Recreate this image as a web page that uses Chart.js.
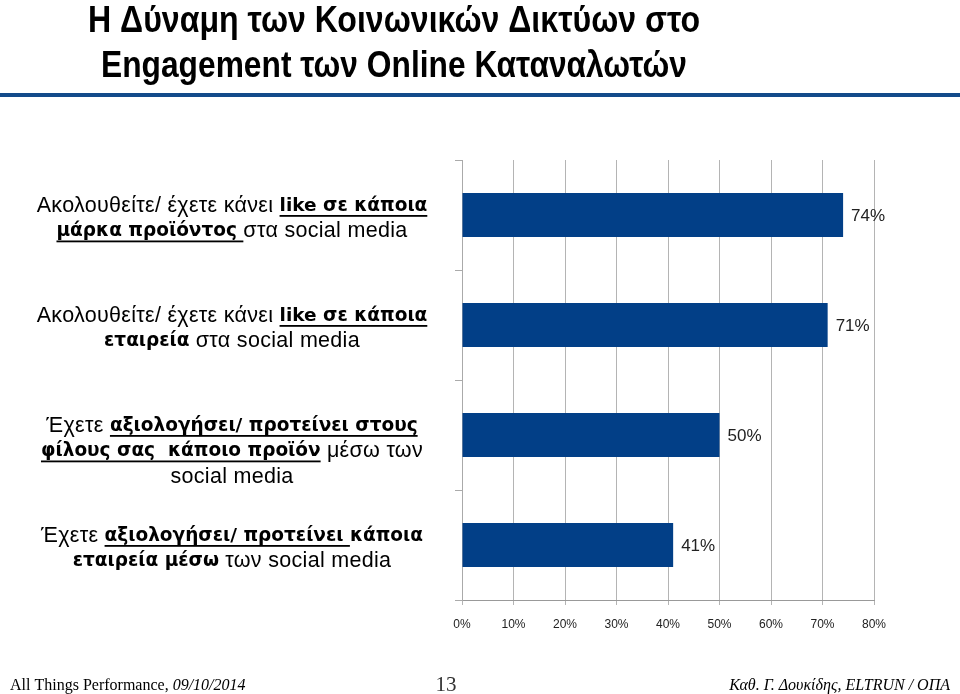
<!DOCTYPE html>
<html lang="el">
<head>
    <meta charset="UTF-8">
    <title>Η Δύναμη των Κοινωνικών Δικτύων στο Engagement των Online Καταναλωτών</title>
    <script src="https://cdn.jsdelivr.net/npm/chart.js"></script>
    <style>
        html, body { margin: 0; padding: 0; background: #fff; }
        #slide { display: block; }
    </style>
</head>
<body>
    <canvas id="slide" width="960" height="694"></canvas>
    <script>
        // Τίτλος διαφάνειας
        const titleLines = [
            'Η Δύναμη των Κοινωνικών Δικτύων στο',
            'Engagement των Online Καταναλωτών'
        ];

        // Κατηγορίες (γραμμές ετικέτας) - __ = έντονο + υπογράμμιση, ** = έντονο
        const categories = [
            ['Ακολουθείτε/ έχετε κάνει __like σε κάποια__', '__μάρκα προϊόντος __στα social media'],
            ['Ακολουθείτε/ έχετε κάνει __like σε κάποια__', '**εταιρεία** στα social media'],
            ['Έχετε __αξιολογήσει/ προτείνει στους__', '__φίλους σας  κάποιο προϊόν__ μέσω των', 'social media'],
            ['Έχετε __αξιολογήσει/ προτείνει __**κάποια**', '**εταιρεία μέσω** των social media']
        ];

        // Ποσοστά (%)
        const values = [74, 71, 50, 41];

        const axisMax = 80;
        const axisStep = 10;

        const footerLeft = 'All Things Performance, ';
        const footerDate = '09/10/2014';
        const pageNumber = '13';
        const footerRight = 'Καθ. Γ. Δουκίδης, ELTRUN / ΟΠΑ';

        const SANS = '"Liberation Sans", Arial, sans-serif';
        const SERIF = '"Liberation Serif", "Times New Roman", serif';
        const fontRegular = '21.5px ' + SANS;
        const fontBold = 'bold 18.5px "DejaVu Sans", Verdana, sans-serif';

        // χωρίζει μια γραμμή σε τμήματα με στυλ
        function parseLine(line) {
            const parts = line.split(/(__.+?__|\*\*.+?\*\*)/).filter(p => p !== '');
            return parts.map(p => {
                if (p.startsWith('__')) return { text: p.slice(2, -2), bold: true, underline: true };
                if (p.startsWith('**')) return { text: p.slice(2, -2), bold: true, underline: false };
                return { text: p, bold: false, underline: false };
            });
        }

        function setSegFont(ctx, s) {
            ctx.font = s.bold ? fontBold : fontRegular;
            ctx.letterSpacing = s.bold ? '0px' : '0.3px';
        }

        function drawRichLine(ctx, line, cx, y) {
            const segs = parseLine(line);
            let total = 0;
            segs.forEach(s => {
                setSegFont(ctx, s);
                s.w = ctx.measureText(s.text).width;
                total += s.w;
            });
            let x = cx - total / 2;
            segs.forEach(s => {
                setSegFont(ctx, s);
                ctx.fillText(s.text, x, y);
                if (s.underline) {
                    ctx.fillRect(x, y + 9, s.w, 1.8);
                }
                x += s.w;
            });
            ctx.letterSpacing = '0px';
        }

        const slidePlugin = {
            id: 'slideText',
            afterDraw(chart) {
                const ctx = chart.ctx;
                const yScale = chart.scales.y;
                ctx.save();

                // τίτλος
                ctx.fillStyle = '#000';
                ctx.textAlign = 'center';
                ctx.textBaseline = 'alphabetic';
                ctx.font = 'bold 37px "Liberation Sans", Arial, sans-serif';
                ctx.fillText(titleLines[0], 394, 32, 612);
                ctx.fillText(titleLines[1], 394, 77, 586);

                // μπλε γραμμή κάτω από τον τίτλο
                ctx.fillStyle = '#134b8a';
                ctx.fillRect(0, 93, 960, 4);

                // ετικέτες κατηγοριών
                ctx.fillStyle = '#000';
                ctx.textAlign = 'left';
                ctx.textBaseline = 'middle';
                categories.forEach((lines, i) => {
                    const cy = yScale.getPixelForValue(i);
                    lines.forEach((line, j) => {
                        drawRichLine(ctx, line, 232, cy - 9 + j * 25.5);
                    });
                });

                // τιμές στο τέλος κάθε ράβδου
                const meta = chart.getDatasetMeta(0);
                ctx.font = '17px ' + SANS;
                ctx.fillStyle = '#222';
                ctx.textAlign = 'left';
                meta.data.forEach((bar, i) => {
                    ctx.fillText(values[i] + '%', bar.x + 8, bar.y + 1);
                });

                // υποσέλιδο
                ctx.fillStyle = '#000';
                ctx.textBaseline = 'alphabetic';
                ctx.font = '16px ' + SERIF;
                ctx.fillText(footerLeft, 10, 690);
                const w = ctx.measureText(footerLeft).width;
                ctx.font = 'italic 16px ' + SERIF;
                ctx.fillText(footerDate, 10 + w, 690);
                ctx.textAlign = 'center';
                ctx.fillStyle = '#333';
                ctx.font = '21px ' + SERIF;
                ctx.fillText(pageNumber, 446, 691);
                ctx.fillStyle = '#000';
                ctx.textAlign = 'right';
                ctx.font = 'italic 16px ' + SERIF;
                ctx.fillText(footerRight, 950, 690);

                ctx.restore();
            }
        };

        const ctx = document.getElementById('slide').getContext('2d');
        new Chart(ctx, {
            type: 'bar',
            data: {
                labels: categories.map(lines => lines.join(' ').replace(/__|\*\*/g, '')),
                datasets: [{
                    data: values,
                    backgroundColor: '#023f87',
                    borderWidth: 0,
                    categoryPercentage: 0.8,
                    barPercentage: 0.5
                }]
            },
            options: {
                indexAxis: 'y',
                responsive: false,
                animation: false,
                layout: { padding: { top: 160, right: 86, left: 0, bottom: 0 } },
                plugins: {
                    legend: { display: false },
                    tooltip: { enabled: false },
                    title: { display: false }
                },
                scales: {
                    x: {
                        min: 0,
                        max: axisMax,
                        afterFit: s => { s.height = 94; },
                        ticks: {
                            stepSize: axisStep,
                            color: '#222',
                            padding: 12,
                            font: { family: SANS, size: 12 },
                            callback: v => v + '%'
                        },
                        grid: { color: '#b4b4b4', lineWidth: 1, tickLength: 5 },
                        border: { color: '#999' }
                    },
                    y: {
                        afterFit: s => { s.width = 462; },
                        ticks: { display: false },
                        grid: {
                            offset: true,
                            drawOnChartArea: false,
                            drawTicks: true,
                            tickLength: 7,
                            color: '#aaa'
                        },
                        border: { color: '#aaa' }
                    }
                }
            },
            plugins: [slidePlugin]
        });
    </script>
</body>
</html>
